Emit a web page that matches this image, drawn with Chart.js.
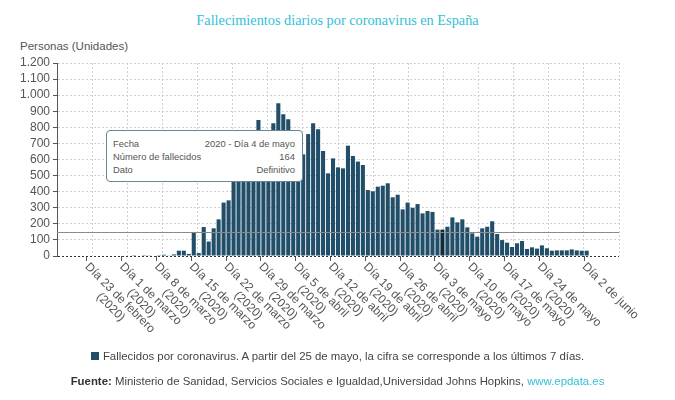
<!DOCTYPE html>
<html lang="es">
<head>
<meta charset="utf-8">
<title>Fallecimientos diarios por coronavirus en España</title>
<script src="https://cdn.jsdelivr.net/npm/chart.js@4.4.1/dist/chart.umd.min.js"></script>
<style>
  body { margin: 0; background: #fff; }
  #wrap { position: relative; width: 675px; height: 400px; font-family: 'Liberation Sans', Arial, sans-serif; color: #555; }
  #wrap canvas { position: absolute; left: 0; top: 0; }
  .titulo { position: absolute; left: 0; top: 12px; width: 675px; text-align: center; font-family: 'Liberation Serif', 'Times New Roman', serif; font-size: 14.3px; color: #33bfd6; }
  .eje { position: absolute; left: 20px; top: 40px; font-size: 11.5px; color: #555; }
  #tip { position: absolute; left: 106px; top: 130px; width: 197px; height: 52px; box-sizing: border-box; background: #fff; border: 1px solid #6a8796; border-radius: 4px; padding: 6px 7px 0 6px; font-size: 9.4px; color: #555; opacity: 0; }
  #tip table { width: 100%; border-collapse: collapse; }
  #tip td { padding: 0; line-height: 13px; white-space: nowrap; }
  #tip td.v { text-align: right; }
  .leyenda { position: absolute; left: 0; top: 350px; width: 675px; text-align: center; font-size: 11.4px; color: #444; }
  .leyenda i { display: inline-block; width: 8px; height: 8px; background: #214e68; margin-right: 4px; vertical-align: 0; }
  .fuente { position: absolute; left: 0; top: 375px; width: 675px; text-align: center; font-size: 11.4px; color: #444; }
  .fuente b { color: #333; }
  .fuente a { color: #33bfd6; text-decoration: none; }
</style>
</head>
<body>
<div id="wrap">
  <div class="titulo">Fallecimientos diarios por coronavirus en España</div>
  <div class="eje">Personas (Unidades)</div>
  <canvas id="grafico" width="675" height="400"></canvas>
  <div id="tip"></div>
  <div class="leyenda"><i></i>Fallecidos por coronavirus. A partir del 25 de mayo, la cifra se corresponde a los últimos 7 días.</div>
  <div class="fuente"><b>Fuente:</b> Ministerio de Sanidad, Servicios Sociales e Igualdad,Universidad Johns Hopkins, <a>www.epdata.es</a></div>
</div>
<script>
// Fallecidos diarios, del 17 de febrero al 8 de junio de 2020
const fallecidos = [
    0, 0, 0, 0, 0, 0, 0, 0, 0, 0, 0, 0, 0, 0, 0,
    // 3 - 22 marzo
    1, 0, 1, 2, 3, 5, 8, 4, 10, 33, 33, 13, 147, 18, 180, 90, 172, 228, 332, 346,
    // 23 - 31 marzo
    540, 620, 690, 740, 770, 846, 760, 770, 825,
    // abril
    950, 881, 850, 740, 690, 632, 758, 825, 788, 653,
    514, 607, 551, 545, 686, 622, 587, 566, 410, 402,
    431, 437, 452, 365, 381, 290, 332, 300, 323, 265,
    // mayo
    280, 274, 164, 164, 182, 240, 209, 228, 178, 141,
    120, 172, 182, 216, 137, 99, 83, 56, 79, 93,
    44, 54, 46, 66, 48, 33, 35, 35, 35, 41, 35,
    // junio
    33, 33, null, null, null, null, null, null
];

const meses = ['enero', 'febrero', 'marzo', 'abril', 'mayo', 'junio'];
const primerDia = '2020-02-17';

const tickLabels = [
    ['Día 23 de febrero', '(2020)'],
    ['Día 1 de marzo', '(2020)'],
    ['Día 8 de marzo', '(2020)'],
    ['Día 15 de marzo', '(2020)'],
    ['Día 22 de marzo', '(2020)'],
    ['Día 29 de marzo', '(2020)'],
    ['Día 5 de abril', '(2020)'],
    ['Día 12 de abril', '(2020)'],
    ['Día 19 de abril', '(2020)'],
    ['Día 26 de abril', '(2020)'],
    ['Día 3 de mayo', '(2020)'],
    ['Día 10 de mayo', '(2020)'],
    ['Día 17 de mayo', '(2020)'],
    ['Día 24 de mayo', '(2020)'],
    ['Día 2 de junio']
];

const yTicks = [0, 100, 200, 300, 400, 500, 600, 700, 800, 900, 1000, 1100, 1200];
const lineaReferencia = 150;
const diaTooltip = 'Día 4 de mayo';
const tipoDato = 'Definitivo';

// una categoría por día
const dias = [];
const inicio = new Date(primerDia + 'T12:00:00Z');
for (let i = 0; i < fallecidos.length; i++) {
    const d = new Date(inicio.getTime() + i * 86400000);
    dias.push(`Día ${d.getUTCDate()} de ${meses[d.getUTCMonth()]}`);
}
const marcas = new Set(tickLabels.map(t => dias.indexOf(t[0])));

function miles(v) {
    return v >= 1000 ? Math.floor(v / 1000) + '.' + String(v % 1000).padStart(3, '0') : String(v);
}

// línea horizontal de referencia
const referencia = {
    id: 'referencia',
    afterDatasetsDraw(chart) {
        const { ctx, chartArea, scales } = chart;
        const y = Math.round(scales.y.getPixelForValue(lineaReferencia)) + 0.5;
        ctx.save();
        ctx.strokeStyle = '#8a8a8a';
        ctx.lineWidth = 1;
        ctx.beginPath();
        ctx.moveTo(chartArea.left, y);
        ctx.lineTo(chartArea.right, y);
        ctx.stroke();
        ctx.restore();
    }
};

// etiquetas del eje x inclinadas hacia abajo a la derecha
const etiquetasX = {
    id: 'etiquetasX',
    afterDraw(chart) {
        const { ctx, chartArea, scales } = chart;
        const x = scales.x;
        const ancho = x.getPixelForValue(1) - x.getPixelForValue(0);
        ctx.save();
        ctx.font = '12px "Liberation Sans", Arial, sans-serif';
        ctx.fillStyle = '#555';
        ctx.textBaseline = 'middle';
        tickLabels.forEach(lineas => {
            const idx = dias.indexOf(lineas[0]);
            const px = x.getPixelForValue(idx) - ancho / 2;
            const maxW = Math.max(...lineas.map(l => ctx.measureText(l).width));
            ctx.save();
            ctx.translate(px, chartArea.bottom + 9);
            ctx.rotate(Math.PI / 4);
            lineas.forEach((l, i) => {
                const w = ctx.measureText(l).width;
                ctx.fillText(l, (maxW - w) / 2, i * 13);
            });
            ctx.restore();
        });
        ctx.restore();
    }
};

function tooltipExterno(context) {
    const tt = context.tooltip;
    const el = document.getElementById('tip');
    if (tt.opacity === 0 || !tt.dataPoints || !tt.dataPoints.length) {
        el.style.opacity = 0;
        return;
    }
    const p = tt.dataPoints[0];
    el.innerHTML = '<table>' +
        `<tr><td>Fecha</td><td class="v">2020 - ${p.label}</td></tr>` +
        `<tr><td>Número de fallecidos</td><td class="v">${p.raw}</td></tr>` +
        `<tr><td>Dato</td><td class="v">${tipoDato}</td></tr>` +
        '</table>';
    el.style.opacity = 1;
}

const chart = new Chart(document.getElementById('grafico'), {
    type: 'bar',
    data: {
        labels: dias,
        datasets: [{
            label: 'Fallecidos por coronavirus',
            data: fallecidos,
            backgroundColor: '#214e68',
            hoverBackgroundColor: '#0f2c3c',
            borderWidth: 0,
            barPercentage: 0.82,
            categoryPercentage: 1
        }]
    },
    options: {
        responsive: false,
        animation: false,
        events: [],
        layout: { padding: { top: 63, left: 0, right: 56, bottom: 134 } },
        plugins: {
            legend: { display: false },
            title: { display: false },
            tooltip: { enabled: false, external: tooltipExterno }
        },
        scales: {
            x: {
                type: 'category',
                offset: true,
                ticks: { display: false, autoSkip: false },
                grid: {
                    offset: true,
                    drawOnChartArea: false,
                    drawTicks: true,
                    tickLength: 5,
                    color: ctx => marcas.has(ctx.index) ? '#555' : 'rgba(0,0,0,0)'
                },
                border: { display: false },
                afterFit: s => { s.height = 10; }
            },
            xg: {
                type: 'linear',
                position: 'bottom',
                min: 0,
                max: 15,
                ticks: { display: false, stepSize: 1 },
                grid: { color: '#cfcfcf', drawTicks: false, tickLength: 0 },
                border: { display: false, dash: [2, 2] },
                afterFit: s => { s.height = 0; }
            },
            y: {
                min: 0,
                max: 1200,
                afterBuildTicks: s => { s.ticks = yTicks.map(v => ({ value: v })); },
                ticks: {
                    autoSkip: false,
                    color: '#555',
                    padding: 3,
                    font: { family: '"Liberation Sans", Arial, sans-serif', size: 12 },
                    callback: v => miles(v)
                },
                grid: {
                    color: ctx => ctx.tick && ctx.tick.value === 0 ? '#333' : '#cfcfcf',
                    tickLength: 4,
                    tickColor: '#555',
                    tickBorderDash: []
                },
                border: { display: true, color: '#555', dash: [2, 2] },
                afterFit: s => { s.width = 57; }
            }
        }
    },
    plugins: [referencia, etiquetasX]
});

const iTip = dias.indexOf(diaTooltip);
const activo = [{ datasetIndex: 0, index: iTip }];
const barra = chart.getDatasetMeta(0).data[iTip];
chart.setActiveElements(activo);
chart.tooltip.setActiveElements(activo, { x: barra.x, y: barra.y });
chart.update();
</script>
</body>
</html>
